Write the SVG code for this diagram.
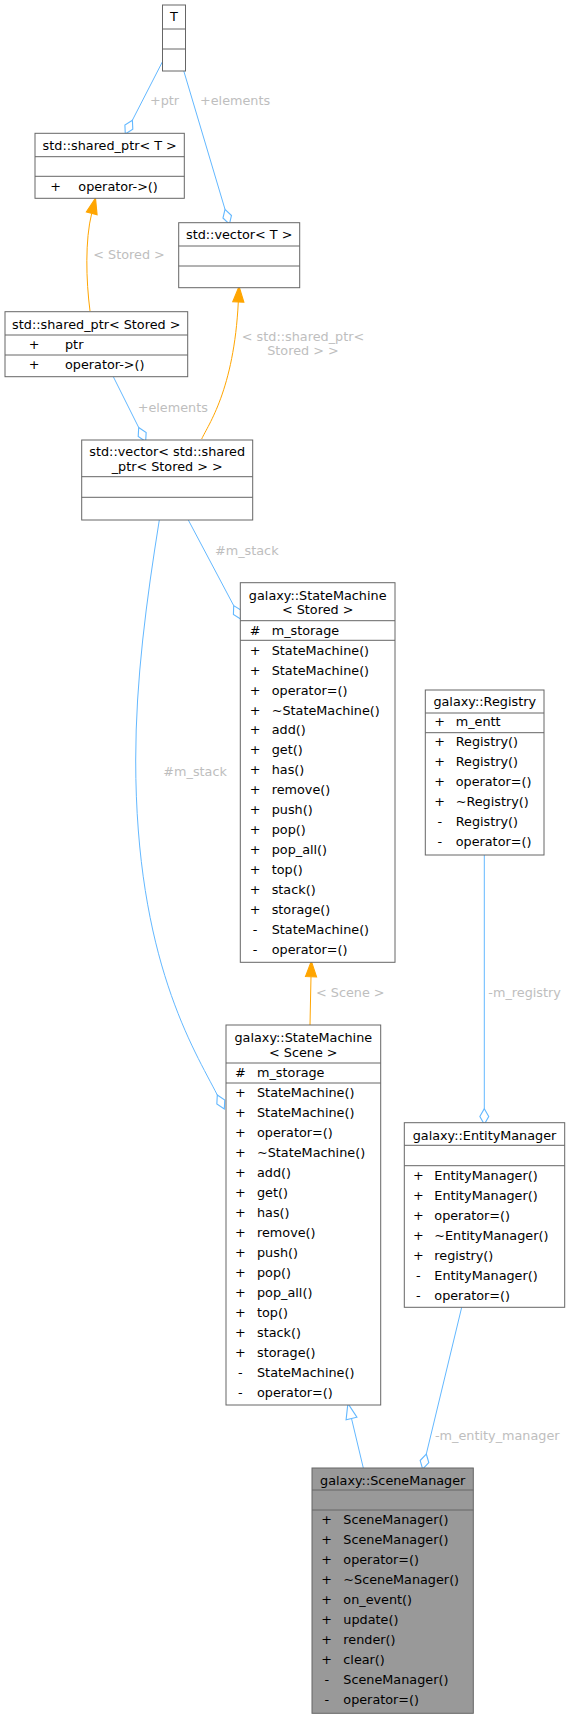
<svg xmlns="http://www.w3.org/2000/svg" width="570" height="1719" viewBox="0 0 570 1719">
<style>
text{font-family:"DejaVu Sans","Liberation Sans",sans-serif;font-size:12.8px;fill:#000}
.box{fill:#fff;stroke:#666;stroke-width:1}
.cur{fill:#999;stroke:#666;stroke-width:1}
.sep{stroke:#666;stroke-width:1}
.c{text-anchor:middle}
.lbl{fill:#bebebe}
.blue{fill:none;stroke:#63b8ff;stroke-width:1}
.orange{fill:none;stroke:#ffa500;stroke-width:1}
</style>
<defs>
<marker id="dia" markerUnits="userSpaceOnUse" markerWidth="20" markerHeight="20" refX="0" refY="0" viewBox="-2 -6 18 12" orient="auto" overflow="visible">
<path d="M0,0 L7,-4 L14,0 L7,4 Z" fill="#fff" stroke="#63b8ff" stroke-width="1"/>
</marker>
<marker id="arr" markerUnits="userSpaceOnUse" markerWidth="20" markerHeight="20" refX="0" refY="0" viewBox="-2 -6 18 12" orient="auto" overflow="visible">
<path d="M0,-5 L14,0 L0,5 Z" fill="#ffa500" stroke="#ffa500" stroke-width="1"/>
</marker>
<marker id="inh" markerUnits="userSpaceOnUse" markerWidth="20" markerHeight="20" refX="0" refY="0" viewBox="-2 -6 18 12" orient="auto" overflow="visible">
<path d="M0,-5 L14,0 L0,5 Z" fill="#fff" stroke="#63b8ff" stroke-width="1"/>
</marker>
</defs>
<rect x="0" y="0" width="570" height="1719" fill="#fff"/>

<g id="edges">
<path class="blue" d="M162.3,62 L132.4,120.2" marker-end="url(#dia)"/>
<text class="lbl" x="150" y="104.6">+ptr</text>
<path class="blue" d="M183.7,70.7 L225,209.3" marker-end="url(#dia)"/>
<text class="lbl" x="200" y="104.6">+elements</text>
<path class="orange" d="M90,311 C86,280 85,240 91.7,213.3" marker-end="url(#arr)"/>
<text class="lbl" x="93.3" y="258.6">&lt; Stored &gt;</text>
<path class="orange" d="M201.7,439 C208,425 234,390 238.3,302" marker-end="url(#arr)"/>
<text class="lbl c" x="303" y="340.6">&lt; std::shared_ptr&lt;</text>
<text class="lbl c" x="303" y="354.6">Stored &gt; &gt;</text>
<path class="blue" d="M113.3,376.7 L138.7,427.5" marker-end="url(#dia)"/>
<text class="lbl" x="137.7" y="412.3">+elements</text>
<path class="blue" d="M188.3,520 L233.7,605.6" marker-end="url(#dia)"/>
<text class="lbl" x="215" y="554.6">#m_stack</text>
<path class="blue" d="M159.3,520 C146.5,600 135.7,680 135.7,760 C135.7,960 194.8,1050.5 217.3,1095" marker-end="url(#dia)"/>
<text class="lbl" x="163.3" y="776.3">#m_stack</text>
<path class="orange" d="M310,1025 L311,976.7" marker-end="url(#arr)"/>
<text class="lbl" x="316" y="997.3">&lt; Scene &gt;</text>
<path class="blue" d="M484.3,855 L484.3,1108.7" marker-end="url(#dia)"/>
<text class="lbl" x="488.3" y="997.3">-m_registry</text>
<path class="blue" d="M461.7,1307.3 L426.3,1454" marker-end="url(#dia)"/>
<text class="lbl" x="435" y="1440.3">-m_entity_manager</text>
<path class="blue" d="M363.3,1468 L351.5,1418.5" marker-end="url(#inh)"/>
</g>

<g id="node-T">
<rect class="box" x="162.5" y="5" width="23" height="66"/>
<line class="sep" x1="162.5" y1="29" x2="185.5" y2="29"/>
<line class="sep" x1="162.5" y1="49" x2="185.5" y2="49"/>
<text class="c" x="174" y="21.3">T</text>
</g>

<g id="node-shared_ptr-T">
<rect class="box" x="35" y="133.3" width="149.3" height="65"/>
<line class="sep" x1="35" y1="156.7" x2="184.3" y2="156.7"/>
<line class="sep" x1="35" y1="176.3" x2="184.3" y2="176.3"/>
<text class="c" x="109.7" y="150">std::shared_ptr&lt; T &gt;</text>
<text class="c" x="55.7" y="191.3">+</text>
<text x="78.3" y="191.3">operator-&gt;()</text>
</g>

<g id="node-vector-T">
<rect class="box" x="178.7" y="222.7" width="121" height="65"/>
<line class="sep" x1="178.7" y1="246" x2="299.7" y2="246"/>
<line class="sep" x1="178.7" y1="266" x2="299.7" y2="266"/>
<text class="c" x="239.2" y="238.9">std::vector&lt; T &gt;</text>
</g>

<g id="node-shared_ptr-Stored">
<rect class="box" x="5" y="311.7" width="182.7" height="65"/>
<line class="sep" x1="5" y1="335" x2="187.7" y2="335"/>
<line class="sep" x1="5" y1="355" x2="187.7" y2="355"/>
<text class="c" x="96.3" y="328.9">std::shared_ptr&lt; Stored &gt;</text>
<text class="c" x="34" y="348.9">+</text>
<text x="65" y="348.9">ptr</text>
<text class="c" x="34" y="368.9">+</text>
<text x="65" y="368.9">operator-&gt;()</text>
</g>

<g id="node-vector-shared_ptr-Stored">
<rect class="box" x="81.7" y="440" width="171" height="80"/>
<line class="sep" x1="81.7" y1="476.7" x2="252.7" y2="476.7"/>
<line class="sep" x1="81.7" y1="497.3" x2="252.7" y2="497.3"/>
<text class="c" x="167.2" y="456.3">std::vector&lt; std::shared</text>
<text class="c" x="167.2" y="470.6">_ptr&lt; Stored &gt; &gt;</text>
</g>

<g id="node-StateMachine-Stored">
<rect class="box" x="240.3" y="582.7" width="154.7" height="379.6"/>
<line class="sep" x1="240.3" y1="620.7" x2="395" y2="620.7"/>
<line class="sep" x1="240.3" y1="640.3" x2="395" y2="640.3"/>
<text class="c" x="317.7" y="599.6">galaxy::StateMachine</text>
<text class="c" x="317.7" y="613.9">&lt; Stored &gt;</text>
<text class="c" x="255" y="634.6">#</text><text x="271.7" y="634.6">m_storage</text>
<text class="c" x="255" y="654.6">+</text><text x="271.7" y="654.6">StateMachine()</text>
<text class="c" x="255" y="674.6">+</text><text x="271.7" y="674.6">StateMachine()</text>
<text class="c" x="255" y="694.5">+</text><text x="271.7" y="694.5">operator=()</text>
<text class="c" x="255" y="714.5">+</text><text x="271.7" y="714.5">~StateMachine()</text>
<text class="c" x="255" y="734.4">+</text><text x="271.7" y="734.4">add()</text>
<text class="c" x="255" y="754.4">+</text><text x="271.7" y="754.4">get()</text>
<text class="c" x="255" y="774.3">+</text><text x="271.7" y="774.3">has()</text>
<text class="c" x="255" y="794.3">+</text><text x="271.7" y="794.3">remove()</text>
<text class="c" x="255" y="814.2">+</text><text x="271.7" y="814.2">push()</text>
<text class="c" x="255" y="834.2">+</text><text x="271.7" y="834.2">pop()</text>
<text class="c" x="255" y="854.1">+</text><text x="271.7" y="854.1">pop_all()</text>
<text class="c" x="255" y="874.1">+</text><text x="271.7" y="874.1">top()</text>
<text class="c" x="255" y="894">+</text><text x="271.7" y="894">stack()</text>
<text class="c" x="255" y="914">+</text><text x="271.7" y="914">storage()</text>
<text class="c" x="255" y="933.9">-</text><text x="271.7" y="933.9">StateMachine()</text>
<text class="c" x="255" y="953.9">-</text><text x="271.7" y="953.9">operator=()</text>
</g>

<g id="node-Registry">
<rect class="box" x="425.3" y="690" width="118.7" height="165"/>
<line class="sep" x1="425.3" y1="713" x2="544" y2="713"/>
<line class="sep" x1="425.3" y1="732.7" x2="544" y2="732.7"/>
<text class="c" x="484.7" y="706.3">galaxy::Registry</text>
<text class="c" x="439.7" y="726.3">+</text><text x="455.7" y="726.3">m_entt</text>
<text class="c" x="439.7" y="746.3">+</text><text x="455.7" y="746.3">Registry()</text>
<text class="c" x="439.7" y="766.3">+</text><text x="455.7" y="766.3">Registry()</text>
<text class="c" x="439.7" y="786.3">+</text><text x="455.7" y="786.3">operator=()</text>
<text class="c" x="439.7" y="806.3">+</text><text x="455.7" y="806.3">~Registry()</text>
<text class="c" x="439.7" y="826.3">-</text><text x="455.7" y="826.3">Registry()</text>
<text class="c" x="439.7" y="846.3">-</text><text x="455.7" y="846.3">operator=()</text>
</g>

<g id="node-StateMachine-Scene">
<rect class="box" x="226" y="1025" width="154.7" height="380"/>
<line class="sep" x1="226" y1="1063" x2="380.7" y2="1063"/>
<line class="sep" x1="226" y1="1083" x2="380.7" y2="1083"/>
<text class="c" x="303.3" y="1042.3">galaxy::StateMachine</text>
<text class="c" x="303.3" y="1056.6">&lt; Scene &gt;</text>
<text class="c" x="240.3" y="1077">#</text><text x="257" y="1077">m_storage</text>
<text class="c" x="240.3" y="1096.9">+</text><text x="257" y="1096.9">StateMachine()</text>
<text class="c" x="240.3" y="1116.9">+</text><text x="257" y="1116.9">StateMachine()</text>
<text class="c" x="240.3" y="1136.9">+</text><text x="257" y="1136.9">operator=()</text>
<text class="c" x="240.3" y="1156.9">+</text><text x="257" y="1156.9">~StateMachine()</text>
<text class="c" x="240.3" y="1176.9">+</text><text x="257" y="1176.9">add()</text>
<text class="c" x="240.3" y="1196.9">+</text><text x="257" y="1196.9">get()</text>
<text class="c" x="240.3" y="1216.9">+</text><text x="257" y="1216.9">has()</text>
<text class="c" x="240.3" y="1236.9">+</text><text x="257" y="1236.9">remove()</text>
<text class="c" x="240.3" y="1256.9">+</text><text x="257" y="1256.9">push()</text>
<text class="c" x="240.3" y="1276.9">+</text><text x="257" y="1276.9">pop()</text>
<text class="c" x="240.3" y="1296.9">+</text><text x="257" y="1296.9">pop_all()</text>
<text class="c" x="240.3" y="1316.9">+</text><text x="257" y="1316.9">top()</text>
<text class="c" x="240.3" y="1336.9">+</text><text x="257" y="1336.9">stack()</text>
<text class="c" x="240.3" y="1356.9">+</text><text x="257" y="1356.9">storage()</text>
<text class="c" x="240.3" y="1376.9">-</text><text x="257" y="1376.9">StateMachine()</text>
<text class="c" x="240.3" y="1396.9">-</text><text x="257" y="1396.9">operator=()</text>
</g>

<g id="node-EntityManager">
<rect class="box" x="404.3" y="1122.7" width="160.4" height="184.6"/>
<line class="sep" x1="404.3" y1="1145.3" x2="564.7" y2="1145.3"/>
<line class="sep" x1="404.3" y1="1165.7" x2="564.7" y2="1165.7"/>
<text class="c" x="484.5" y="1139.6">galaxy::EntityManager</text>
<text class="c" x="418.3" y="1179.6">+</text><text x="434.3" y="1179.6">EntityManager()</text>
<text class="c" x="418.3" y="1199.6">+</text><text x="434.3" y="1199.6">EntityManager()</text>
<text class="c" x="418.3" y="1219.6">+</text><text x="434.3" y="1219.6">operator=()</text>
<text class="c" x="418.3" y="1239.6">+</text><text x="434.3" y="1239.6">~EntityManager()</text>
<text class="c" x="418.3" y="1259.6">+</text><text x="434.3" y="1259.6">registry()</text>
<text class="c" x="418.3" y="1279.6">-</text><text x="434.3" y="1279.6">EntityManager()</text>
<text class="c" x="418.3" y="1299.6">-</text><text x="434.3" y="1299.6">operator=()</text>
</g>

<g id="node-SceneManager">
<rect class="cur" x="312" y="1468" width="161.3" height="245.3"/>
<line class="sep" x1="312" y1="1490" x2="473.3" y2="1490"/>
<line class="sep" x1="312" y1="1510" x2="473.3" y2="1510"/>
<text class="c" x="392.7" y="1484.6">galaxy::SceneManager</text>
<text class="c" x="326.7" y="1523.9">+</text><text x="343.3" y="1523.9">SceneManager()</text>
<text class="c" x="326.7" y="1543.9">+</text><text x="343.3" y="1543.9">SceneManager()</text>
<text class="c" x="326.7" y="1563.9">+</text><text x="343.3" y="1563.9">operator=()</text>
<text class="c" x="326.7" y="1583.9">+</text><text x="343.3" y="1583.9">~SceneManager()</text>
<text class="c" x="326.7" y="1603.9">+</text><text x="343.3" y="1603.9">on_event()</text>
<text class="c" x="326.7" y="1623.9">+</text><text x="343.3" y="1623.9">update()</text>
<text class="c" x="326.7" y="1643.9">+</text><text x="343.3" y="1643.9">render()</text>
<text class="c" x="326.7" y="1663.9">+</text><text x="343.3" y="1663.9">clear()</text>
<text class="c" x="326.7" y="1683.9">-</text><text x="343.3" y="1683.9">SceneManager()</text>
<text class="c" x="326.7" y="1703.9">-</text><text x="343.3" y="1703.9">operator=()</text>
</g>
</svg>
